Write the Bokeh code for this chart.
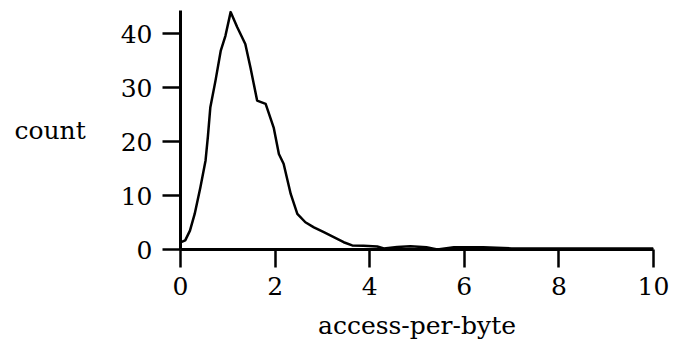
from bokeh.plotting import figure
from bokeh.models import Range1d, FixedTicker
from bokeh.embed import file_html
from bokeh.resources import INLINE

# data
apb = [0, 0.1, 0.2, 0.3, 0.42, 0.53, 0.58, 0.63, 0.74, 0.85, 0.95, 1.06, 1.2, 1.37,
       1.48, 1.62, 1.8, 1.97, 2.08, 2.18, 2.33, 2.47, 2.64, 2.82, 3.03, 3.24,
       3.45, 3.63, 3.87, 4.16, 4.3, 4.58, 4.86, 5.2, 5.43, 5.78, 6.4, 7.0,
       8.0, 9.0, 10.0]
count = [1.3, 1.7, 3.5, 6.6, 11.5, 16.5, 21.0, 26.3, 31.3, 36.8, 39.6, 44.0, 41.2, 38.1,
         33.7, 27.6, 27.0, 22.6, 17.7, 15.9, 10.3, 6.6, 5.05, 4.1, 3.2, 2.3,
         1.35, 0.75, 0.7, 0.55, 0.2, 0.45, 0.6, 0.4, 0.0, 0.4, 0.4, 0.2,
         0.2, 0.2, 0.2]
x_ticks = [0, 2, 4, 6, 8, 10]
y_ticks = [0, 10, 20, 30, 40]

FONT = "DejaVu Serif"

p = figure(width=689, height=347, output_backend="svg", toolbar_location=None,
           x_range=Range1d(0, 10), y_range=Range1d(0, 44.3),
           min_border_left=180, min_border_right=36, min_border_top=10,
           min_border_bottom=98)
p.outline_line_color = None
p.grid.visible = False
p.background_fill_color = "white"
p.border_fill_color = "white"

p.line(apb, count, line_color="black", line_width=2.5, line_join="round")

for ax in (p.xaxis[0], p.yaxis[0]):
    ax.axis_line_width = 3
    ax.axis_line_color = "black"
    ax.major_tick_line_width = 2.5
    ax.major_tick_out = 18
    ax.major_tick_in = 0
    ax.minor_tick_line_color = None
    ax.major_label_text_font = FONT
    ax.major_label_text_font_size = "25px"
    ax.major_label_text_color = "black"
    ax.axis_label_text_font = FONT
    ax.axis_label_text_font_size = "25px"
    ax.axis_label_text_font_style = "normal"
    ax.axis_label_text_color = "black"

p.xaxis.ticker = FixedTicker(ticks=x_ticks)
p.yaxis.ticker = FixedTicker(ticks=y_ticks)
p.xaxis.axis_label = "access-per-byte"
p.yaxis.axis_label = "count"
p.yaxis.axis_label_orientation = "horizontal"
p.xaxis.major_label_standoff = 9
p.yaxis.major_label_standoff = 10
p.xaxis.axis_label_standoff = 13
p.yaxis.axis_label_standoff = 32

open("out.html", "w").write(file_html(p, INLINE))
